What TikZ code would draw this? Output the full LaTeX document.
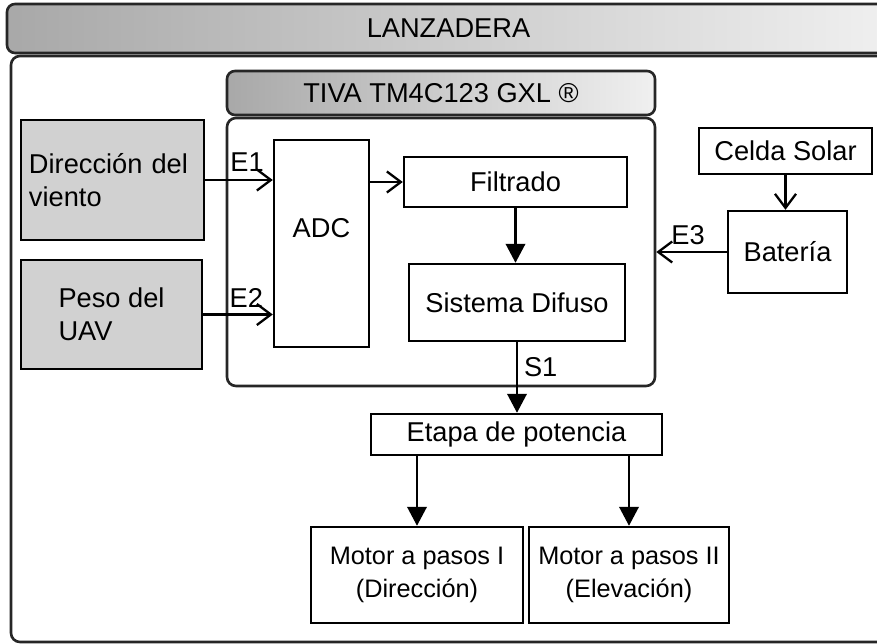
\documentclass[tikz,border=0pt]{standalone}
\usepackage{fontspec}
\setmainfont{Liberation Sans}
\usetikzlibrary{arrows.meta}

\begin{document}
\begin{tikzpicture}[
    box/.style={draw, line width=1.4pt, rectangle, inner sep=0pt},
    graybox/.style={box, fill=black!18},
    header/.style={draw=black!85, line width=1.5pt, rounded corners=0.16cm, left color=black!34, right color=black!6},
    frame/.style={draw=black!85, line width=1.5pt, rounded corners=0.18cm},
    barb/.style={-{Straight Barb[length=2.8mm,width=4.2mm]}, line width=1.3pt},
    tri/.style={-{Triangle[length=3.8mm,width=3.9mm]}, line width=1.3pt},
    font=\fontsize{15.5}{18.5}\selectfont
]
            \useasboundingbox (0,0) rectangle (17.54,-12.88);

            \node[header, minimum width=17.66cm, minimum height=0.98cm] (lanz) at (8.97,-0.57) {LANZADERA};
            \node[frame, minimum width=17.98cm, minimum height=11.72cm] (lanzb) at (9.21,-6.98) {};

            \node[header, minimum width=8.56cm, minimum height=0.88cm] (tiva) at (8.82,-1.86) {TIVA TM4C123 GXL ®};
            \node[frame, minimum width=8.56cm, minimum height=5.36cm] (tivab) at (8.82,-5.04) {};

            \node[graybox, text width=3.34cm, inner sep=0.16cm, align=left, minimum height=2.4cm] (viento) at (2.25,-3.6) {Dirección del\\viento};
            \node[graybox, align=left, minimum width=3.62cm, minimum height=2.18cm] (peso) at (2.23,-6.29) {Peso del\\UAV};

            \node[box, minimum width=1.9cm, minimum height=4.14cm] (adc) at (6.43,-4.87) {};
            \node (adctxt) at ([yshift=0.31cm]adc.center) {ADC};
            \node[box, minimum width=4.46cm, minimum height=1.0cm] (filt) at (10.31,-3.64) {Filtrado};
            \node[box, minimum width=4.32cm, minimum height=1.54cm] (dif) at (10.34,-6.05) {Sistema Difuso};
            \node[box, minimum width=5.82cm, minimum height=0.82cm] (etapa) at (10.33,-8.69) {Etapa de potencia};

            \node[box, align=center, minimum width=4.24cm, minimum height=1.92cm, font=\fontsize{14.4}{18.7}\selectfont] (mot1) at (8.34,-11.5) {Motor a pasos I\\(Dirección)};
            \node[box, align=center, minimum width=4.0cm, minimum height=1.92cm, font=\fontsize{14.4}{18.7}\selectfont] (mot2) at (12.58,-11.5) {Motor a pasos II\\(Elevación)};

            \node[box, minimum width=3.46cm, minimum height=0.92cm] (celda) at (15.71,-3.02) {Celda Solar};
            \node[box, minimum width=2.38cm, minimum height=1.64cm] (bat) at (15.75,-5.04) {Batería};

            \draw[barb] (viento.east) -- node[above, pos=0.62, yshift=1pt] {E1} (viento.east -| adc.west);
            \draw[barb] (peso.east) -- node[above, pos=0.62] {E2} (peso.east -| adc.west);
            \draw[barb] (adc.east |- filt.west) -- (filt.west);
            \draw[tri] (filt.south) -- (filt.south |- dif.north);
            \draw[tri] (dif.south) -- node[right, pos=0.36] {S1} (dif.south |- etapa.north);
            \draw[tri] (etapa.south -| mot1.north) -- (mot1.north);
            \draw[tri] (etapa.south -| mot2.north) -- (mot2.north);
            \draw[barb] (celda.south) -- (celda.south |- bat.north);
            \draw[barb] (bat.west) -- node[above, pos=0.55] {E3} (bat.west -| tivab.east);
        \end{tikzpicture}
\end{document}
